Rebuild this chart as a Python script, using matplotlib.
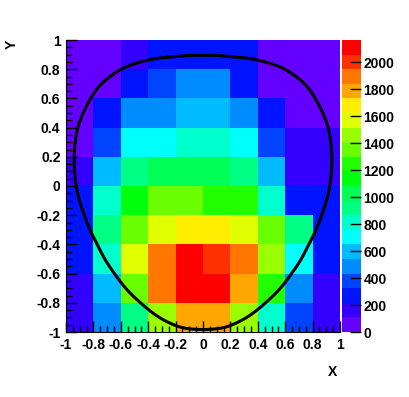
import colorsys
import numpy as np
import matplotlib
matplotlib.use("Agg")
import matplotlib.pyplot as plt
from matplotlib.colors import ListedColormap, BoundaryNorm
from matplotlib.ticker import MultipleLocator

plt.rcParams['font.family'] = ['Liberation Sans', 'DejaVu Sans']
plt.rcParams['font.weight'] = 'bold'

# bin edges (10 x 10 bins)
x_edges = np.linspace(-1, 1, 11)
y_edges = np.linspace(-1, 1, 11)

# bin contents, top row (y 0.8..1) first
counts = [
    [70, 95, 180, 260, 290, 300, 265, 100, 80, 60],
    [85, 100, 280, 370, 470, 480, 300, 100, 90, 70],
    [90, 250, 480, 500, 600, 610, 490, 260, 100, 80],
    [100, 370, 690, 720, 800, 810, 700, 360, 150, 120],
    [160, 590, 900, 1000, 1040, 1030, 920, 580, 170, 150],
    [240, 800, 1130, 1320, 1330, 1250, 1230, 790, 250, 230],
    [260, 900, 1340, 1560, 1660, 1680, 1550, 1330, 880, 240],
    [270, 820, 1540, 1880, 2163, 2000, 1860, 1450, 700, 250],
    [200, 600, 1330, 1850, 2120, 2080, 1760, 1220, 480, 190],
    [180, 470, 900, 1430, 1740, 1760, 1440, 800, 360, 170],
]
z_max = 2163
n_levels = 20
cbar_ticks = [0, 200, 400, 600, 800, 1000, 1200, 1400, 1600, 1800, 2000]

# contour curve, right half from bottom to top
curve_x = [0.0, 0.16, 0.31, 0.455, 0.645, 0.77, 0.865, 0.925, 0.94, 0.915, 0.82, 0.755, 0.6, 0.41, 0.21, 0.0]
curve_y = [-1.0, -0.97, -0.906, -0.8, -0.6, -0.4, -0.2, 0.0, 0.2, 0.4, 0.6, 0.69, 0.8, 0.86, 0.883, 0.893]

# ROOT "pretty" palette: hue 280 -> 0, 50 colours, 20 picked for the levels
palette = [colorsys.hls_to_rgb((280 - (i + 1) * 280 / 50) / 360, 0.5, 1.0) for i in range(50)]
colors = [palette[int((k + 0.99) * 50 / n_levels)] for k in range(n_levels)]
cmap = ListedColormap(colors)
norm = BoundaryNorm(np.linspace(0, z_max, n_levels + 1), n_levels)


def smooth_loop(px, py, n=720, win=13):
    # polar view from the origin: interpolate r(phi), then a small circular smoothing
    px, py = np.array(px), np.array(py)
    phi = np.arctan2(px, py)
    r = np.hypot(px, py)
    phi = np.concatenate([-phi[::-1][:-1], phi[1:]])
    r = np.concatenate([r[::-1][:-1], r[1:]])
    order = np.argsort(phi)
    t = np.linspace(-np.pi, np.pi, n, endpoint=False)
    rr = np.interp(t, phi[order], r[order], period=2 * np.pi)
    kern = np.ones(win) / win
    rr = np.convolve(np.concatenate([rr[-win:], rr, rr[:win]]), kern, mode='same')[win:-win]
    xs, ys = rr * np.sin(t), rr * np.cos(t)
    return np.append(xs, xs[0]), np.append(ys, ys[0])


fig = plt.figure(figsize=(4.09, 3.97), dpi=100)
ax = fig.add_axes([66 / 409, 1 - 332 / 397, 274 / 409, 292 / 397])
cax = fig.add_axes([342 / 409, 1 - 332 / 397, 18.5 / 409, 292 / 397])

z = np.array(counts)[::-1]
mesh = ax.pcolormesh(x_edges, y_edges, z, cmap=cmap, norm=norm)

sx, sy = smooth_loop(curve_x, curve_y)
ax.plot(sx, sy, color='black', lw=2.2, clip_on=False)

ax.set_xlim(-1, 1)
ax.set_ylim(-1, 1)
for s in ['top', 'right']:
    ax.spines[s].set_visible(False)
ax.xaxis.set_major_locator(MultipleLocator(0.2))
ax.yaxis.set_major_locator(MultipleLocator(0.2))
ax.xaxis.set_minor_locator(MultipleLocator(0.05))
ax.yaxis.set_minor_locator(MultipleLocator(0.05))
ax.tick_params(which='major', direction='in', length=8, width=1, labelsize=10, pad=4)
ax.tick_params(which='minor', direction='in', length=4, width=1)
ax.xaxis.set_major_formatter(plt.FuncFormatter(lambda v, p: '%g' % round(v, 1)))
ax.yaxis.set_major_formatter(plt.FuncFormatter(lambda v, p: '%g' % round(v, 1)))

cb = fig.colorbar(mesh, cax=cax, ticks=cbar_ticks)
cb.outline.set_visible(False)
cax.tick_params(direction='in', length=8, width=1, labelsize=10, pad=2)
cax.minorticks_off()

fig.text(12 / 409, 1 - 44 / 397, 'Y', rotation=90, ha='center', va='center', fontsize=10, fontweight='bold')
fig.text(333 / 409, 1 - 372 / 397, 'X', ha='center', va='center', fontsize=10, fontweight='bold')

fig.savefig('out.png', dpi=100)
